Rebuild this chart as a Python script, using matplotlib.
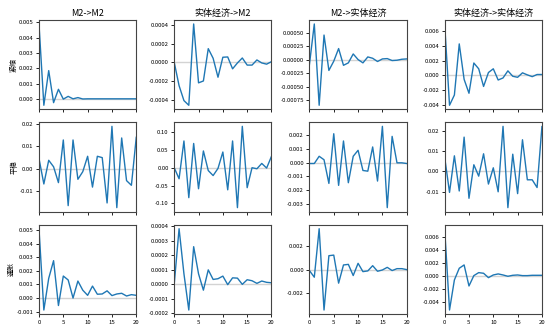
import matplotlib
matplotlib.use("Agg")
import matplotlib.pyplot as plt
import numpy as np

plt.rcParams['font.family'] = ['Noto Sans CJK SC', 'DejaVu Sans']
plt.rcParams['axes.unicode_minus'] = False

# titles (impulse -> response) and regime labels
titles = ['M2->M2', '实体经济->M2', 'M2->实体经济', '实体经济->实体经济']
regimes = ['紧缩', '平稳', '通胀']
periods = np.arange(21)

# 紧缩
tight_m2_m2 = [0.0049, -0.0004, 0.00186, -0.00023, 0.00064, 0.0, 0.00018, 0.00002, 0.0001, 0.00001,
               0.00002, 0.00002, 0.00002, 0.00002, 0.00002, 0.00002, 0.00002, 0.00002, 0.00002, 0.00002, 0.00002]
tight_real_m2 = [0.0, -0.00025, -0.00041, -0.00046, 0.00041, -0.00022, -0.0002, 0.000146, 0.000043, -0.00016,
                 0.000054, 0.000057, -0.00007, -0.000007, 0.000046, -0.00003, -0.00003, 0.000025, -0.000007, -0.00002, 0.000007]
tight_m2_real = [-0.000085, 0.000665, -0.00084, 0.00046, -0.000195, -0.000024, 0.00021, -0.0001, -0.000055, 0.00011,
                 0.000006, -0.000055, 0.000055, 0.00003, -0.00003, 0.000018, 0.000024, -0.000012, -0.000006, 0.000012, 0.000018]
tight_real_real = [0.007, -0.0041, -0.0027, 0.00428, -0.00056, -0.00246, 0.00167, 0.00088, -0.00153, 0.00037,
                   0.00088, -0.00065, -0.00037, 0.0006, -0.00014, -0.00028, 0.00033, 0.00005, -0.00019, 0.0001, 0.0001]

# 平稳
stable_m2_m2 = [0.0046, -0.0068, 0.0038, 0.0009, -0.0062, 0.0129, -0.0165, 0.0129, -0.0047, -0.0013,
                0.0056, -0.0082, 0.0056, 0.005, -0.0153, 0.019, -0.0174, 0.0138, -0.0053, -0.0074, 0.0141]
stable_real_m2 = [0.0, -0.031, 0.075, -0.084, 0.068, -0.059, 0.047, -0.008, -0.022, -0.002,
                  0.044, -0.062, 0.075, -0.112, 0.116, -0.056, 0.0, -0.003, 0.012, -0.001, 0.032]
stable_m2_real = [-0.00007, -0.00007, 0.00045, 0.0002, -0.0015, 0.00207, -0.00164, 0.00155, -0.00145, 0.00045,
                  0.00088, -0.00057, -0.00062, 0.00112, -0.00133, 0.0026, -0.00324, 0.00188, -0.00002, -0.00002, -0.00007]
stable_real_real = [0.007, -0.0103, 0.0077, -0.0096, 0.0169, -0.0132, 0.0033, -0.0023, 0.0087, -0.0062,
                    0.0018, -0.01, 0.0222, -0.0178, 0.0085, -0.0109, 0.0156, -0.0041, -0.0041, -0.0079, 0.0221]

# 通胀
infl_m2_m2 = [0.0051, -0.00088, 0.00145, 0.00275, -0.00055, 0.00162, 0.00133, 0.0, 0.00125, 0.00058,
              0.0002, 0.00088, 0.00028, 0.0003, 0.00053, 0.00018, 0.0003, 0.00035, 0.00015, 0.00025, 0.0002]
infl_real_m2 = [0.0, 0.000384, 0.000073, -0.000177, 0.00026, 0.000073, -0.00004, 0.0001, 0.000034, 0.000039,
                0.000057, -0.000002, 0.000045, 0.000043, 0.0, 0.000032, 0.000025, 0.000007, 0.000023, 0.000014, 0.000011]
infl_m2_real = [-0.00008, -0.00064, 0.00344, -0.0034, 0.00117, 0.00122, -0.00114, 0.00039, 0.00044, -0.0005,
                0.00053, -0.00017, -0.00011, 0.00033, -0.00014, -0.00003, 0.00019, -0.00008, 0.00008, 0.00008, 0.0]
infl_real_real = [0.0072, -0.00528, -0.00067, 0.00113, 0.00164, -0.00159, 0.0, 0.00046, 0.00036, -0.00031,
                  0.0001, 0.00026, 0.0001, -0.0001, 0.00005, 0.0001, 0.0, 0.0, 0.00005, 0.00005, 0.00005]

grid = [
    [tight_m2_m2, tight_real_m2, tight_m2_real, tight_real_real],
    [stable_m2_m2, stable_real_m2, stable_m2_real, stable_real_real],
    [infl_m2_m2, infl_real_m2, infl_m2_real, infl_real_real],
]

fig, axes = plt.subplots(3, 4, figsize=(5.53, 3.32), dpi=100, sharex=True)
fig.subplots_adjust(left=0.0705, right=0.98, top=0.94, bottom=0.054, wspace=0.39, hspace=0.145)

for i in range(3):
    for j in range(4):
        ax = axes[i, j]
        ax.axhline(0, color='lightgray', lw=1, zorder=1)
        ax.plot(periods, grid[i][j], color='#1f77b4', lw=1, zorder=2)
        ax.set_xlim(0, 20)
        ax.set_xticks([0, 5, 10, 15, 20])
        ax.tick_params(labelsize=4.3, length=2.5, width=0.6, pad=1.5)
        for s in ax.spines.values():
            s.set_color('#444444')
            s.set_linewidth(0.8)
        if i == 0:
            ax.set_title(titles[j], fontsize=6.5, pad=3)
        if j == 0:
            ax.set_ylabel(regimes[i], fontsize=5, labelpad=1)

fig.savefig('out.png', dpi=100)
